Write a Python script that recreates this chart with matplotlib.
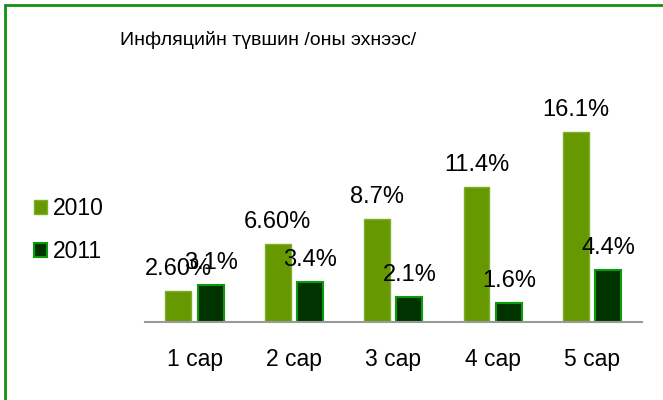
import numpy as np
import matplotlib.pyplot as plt
from matplotlib.patches import Rectangle

plt.rcParams['font.family'] = ['Liberation Sans', 'DejaVu Sans']

# Data
months = ['1 сар', '2 сар', '3 сар', '4 сар', '5 сар']
vals_2010 = [2.6, 6.6, 8.7, 11.4, 16.1]
vals_2011 = [3.1, 3.4, 2.1, 1.6, 4.4]
labels_2010 = ['2.60%', '6.60%', '8.7%', '11.4%', '16.1%']
labels_2011 = ['3.1%', '3.4%', '2.1%', '1.6%', '4.4%']

fig = plt.figure(figsize=(6.63, 4.0), dpi=100)
ax = fig.add_axes([145 / 663, 78 / 400, 497 / 663, 212 / 400])

x = np.arange(len(months))
w = 0.26
b1 = ax.bar(x - 0.165, vals_2010, w, color='#669900', edgecolor='#7fae2a',
            linewidth=1, label='2010')
b2 = ax.bar(x + 0.16, vals_2011, w, color='#003300', edgecolor='#0a9a0a',
            linewidth=1.5, label='2011')

# value labels above the bars
for xi, v, lab in zip(x - 0.165, vals_2010, labels_2010):
    ax.annotate(lab, (xi, v), xytext=(0, 16), textcoords='offset points',
                ha='center', va='center', fontsize=17)
for xi, v, lab in zip(x + 0.16, vals_2011, labels_2011):
    ax.annotate(lab, (xi, v), xytext=(0, 16), textcoords='offset points',
                ha='center', va='center', fontsize=17)

ax.set_xlim(-0.5, 4.5)
ax.set_ylim(0, 212 / 11.8)
ax.set_xticks(x)
ax.set_xticklabels(months, fontsize=16.5)
ax.tick_params(axis='x', length=0, pad=19)
ax.set_yticks([])
for s in ['top', 'right', 'left']:
    ax.spines[s].set_visible(False)
ax.spines['bottom'].set_color('#999999')
ax.spines['bottom'].set_linewidth(1.5)

fig.text(268 / 663, 1 - 40 / 400, 'Инфляцийн түвшин /оны эхнээс/',
         ha='center', va='center', fontsize=14)

fig.legend(handles=[b1, b2], labels=['2010', '2011'], loc='center left',
           bbox_to_anchor=(13 / 663, 1 - 230 / 400), frameon=False,
           fontsize=16.5, handlelength=0.6, handleheight=0.6,
           handletextpad=0.25, labelspacing=0.87)

# green frame (right and bottom sides are cut off in the original)
fig.patches.append(Rectangle((5 / 663, -0.1), 2, 1.1 - 5 / 400,
                             transform=fig.transFigure, fill=False,
                             edgecolor='#149014', linewidth=2))

fig.savefig('out.png', dpi=100)
